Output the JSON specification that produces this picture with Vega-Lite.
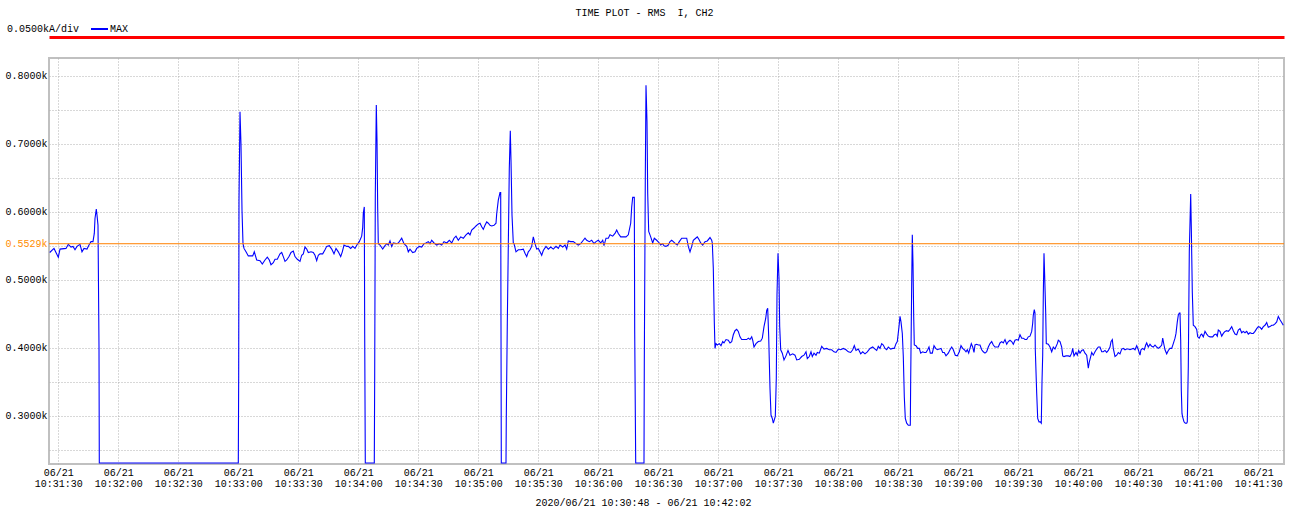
{
  "$schema": "https://vega.github.io/schema/vega-lite/v6.json",
  "width": 1235,
  "height": 406,
  "autosize": "none",
  "padding": {"left": 49, "top": 58, "right": 5, "bottom": 48},
  "background": "#ffffff",
  "title": {
    "text": "TIME PLOT - RMS\u00a0 I, CH2",
    "font": "Liberation Mono",
    "fontSize": 10,
    "fontWeight": "normal",
    "color": "#000000",
    "anchor": "middle",
    "frame": "group",
    "dx": -22,
    "offset": 2
  },
  "config": {
    "view": {"stroke": "#c0c0c0", "strokeWidth": 2},
    "font": "Liberation Mono"
  },
  "data": {
    "values": [
      {"t": -4.3, "v": 0.540}, {"t": -2.15, "v": 0.546}, {"t": 0, "v": 0.533}, {"t": 0.85, "v": 0.545},
      {"t": 3.85, "v": 0.546}, {"t": 5, "v": 0.552}, {"t": 6.35, "v": 0.548}, {"t": 7.35, "v": 0.549},
      {"t": 8.35, "v": 0.544}, {"t": 9.35, "v": 0.549}, {"t": 10.85, "v": 0.552}, {"t": 11.85, "v": 0.541},
      {"t": 12.85, "v": 0.546}, {"t": 14.35, "v": 0.545}, {"t": 15.35, "v": 0.551}, {"t": 16.35, "v": 0.556},
      {"t": 17.35, "v": 0.556}, {"t": 18.0, "v": 0.568}, {"t": 18.35, "v": 0.590}, {"t": 19.0, "v": 0.604},
      {"t": 19.35, "v": 0.595}, {"t": 19.85, "v": 0.580}, {"t": 20.35, "v": 0.401}, {"t": 20.5, "v": 0.2305},
      {"t": 90.0, "v": 0.2305}, {"t": 90.2, "v": 0.360}, {"t": 90.35, "v": 0.617}, {"t": 90.85, "v": 0.747},
      {"t": 91.35, "v": 0.698}, {"t": 91.85, "v": 0.602}, {"t": 92.35, "v": 0.553}, {"t": 92.85, "v": 0.546},
      {"t": 93.85, "v": 0.541}, {"t": 95.0, "v": 0.535}, {"t": 97.2, "v": 0.535}, {"t": 98.0, "v": 0.541},
      {"t": 99.2, "v": 0.529}, {"t": 100.85, "v": 0.528}, {"t": 102.0, "v": 0.523}, {"t": 103.35, "v": 0.529},
      {"t": 104.5, "v": 0.533}, {"t": 105.5, "v": 0.529}, {"t": 106.35, "v": 0.522}, {"t": 107.5, "v": 0.525},
      {"t": 108.35, "v": 0.530}, {"t": 109.5, "v": 0.530}, {"t": 110.85, "v": 0.538}, {"t": 111.7, "v": 0.540},
      {"t": 112.5, "v": 0.534}, {"t": 113.35, "v": 0.527}, {"t": 114.2, "v": 0.529}, {"t": 115.35, "v": 0.534},
      {"t": 116.35, "v": 0.540}, {"t": 117.5, "v": 0.542}, {"t": 118.35, "v": 0.534}, {"t": 119.5, "v": 0.530},
      {"t": 120.85, "v": 0.527}, {"t": 121.7, "v": 0.536}, {"t": 122.5, "v": 0.538}, {"t": 123.35, "v": 0.548},
      {"t": 124.2, "v": 0.545}, {"t": 125.0, "v": 0.540}, {"t": 126.35, "v": 0.541}, {"t": 127.5, "v": 0.540},
      {"t": 128.35, "v": 0.536}, {"t": 129.2, "v": 0.528}, {"t": 130.0, "v": 0.536}, {"t": 130.85, "v": 0.538},
      {"t": 132.2, "v": 0.538}, {"t": 133.35, "v": 0.544}, {"t": 134.2, "v": 0.549}, {"t": 135.5, "v": 0.550},
      {"t": 136.7, "v": 0.545}, {"t": 137.85, "v": 0.538}, {"t": 138.85, "v": 0.546}, {"t": 140.0, "v": 0.541},
      {"t": 141.2, "v": 0.534}, {"t": 142.0, "v": 0.541}, {"t": 142.85, "v": 0.551}, {"t": 144.2, "v": 0.549},
      {"t": 145.0, "v": 0.549}, {"t": 146.2, "v": 0.546}, {"t": 147.2, "v": 0.549}, {"t": 148.35, "v": 0.546},
      {"t": 149.5, "v": 0.552}, {"t": 150.5, "v": 0.556}, {"t": 151.7, "v": 0.564}, {"t": 152.2, "v": 0.577},
      {"t": 152.5, "v": 0.598}, {"t": 153.0, "v": 0.607}, {"t": 153.2, "v": 0.419}, {"t": 153.5, "v": 0.2305},
      {"t": 158.0, "v": 0.2305}, {"t": 158.2, "v": 0.362}, {"t": 158.5, "v": 0.625}, {"t": 159.0, "v": 0.757},
      {"t": 159.35, "v": 0.706}, {"t": 159.7, "v": 0.605}, {"t": 160.0, "v": 0.553}, {"t": 160.85, "v": 0.551},
      {"t": 162.2, "v": 0.545}, {"t": 163.35, "v": 0.550}, {"t": 164.2, "v": 0.553}, {"t": 165.0, "v": 0.551},
      {"t": 165.85, "v": 0.557}, {"t": 166.7, "v": 0.549}, {"t": 167.5, "v": 0.554}, {"t": 168.85, "v": 0.553},
      {"t": 170.0, "v": 0.554}, {"t": 171.7, "v": 0.561}, {"t": 172.85, "v": 0.553}, {"t": 174.2, "v": 0.549},
      {"t": 175.0, "v": 0.541}, {"t": 175.85, "v": 0.545}, {"t": 177.2, "v": 0.540}, {"t": 178.35, "v": 0.541},
      {"t": 179.2, "v": 0.546}, {"t": 180.5, "v": 0.549}, {"t": 181.7, "v": 0.548}, {"t": 182.85, "v": 0.553},
      {"t": 183.85, "v": 0.554}, {"t": 185.0, "v": 0.556}, {"t": 185.85, "v": 0.553}, {"t": 186.7, "v": 0.558},
      {"t": 187.85, "v": 0.554}, {"t": 189.2, "v": 0.551}, {"t": 190.5, "v": 0.553}, {"t": 191.7, "v": 0.551},
      {"t": 192.85, "v": 0.556}, {"t": 194.2, "v": 0.554}, {"t": 195.5, "v": 0.558}, {"t": 196.7, "v": 0.554},
      {"t": 197.85, "v": 0.561}, {"t": 198.85, "v": 0.564}, {"t": 200.0, "v": 0.558}, {"t": 201.2, "v": 0.563},
      {"t": 202.5, "v": 0.561}, {"t": 203.85, "v": 0.566}, {"t": 205.0, "v": 0.569}, {"t": 205.85, "v": 0.566},
      {"t": 206.7, "v": 0.573}, {"t": 207.85, "v": 0.576}, {"t": 208.85, "v": 0.579}, {"t": 210.0, "v": 0.582},
      {"t": 210.85, "v": 0.583}, {"t": 211.7, "v": 0.578}, {"t": 212.5, "v": 0.574}, {"t": 213.35, "v": 0.580},
      {"t": 214.2, "v": 0.585}, {"t": 215.0, "v": 0.583}, {"t": 215.85, "v": 0.580}, {"t": 216.7, "v": 0.579},
      {"t": 217.85, "v": 0.580}, {"t": 218.85, "v": 0.583}, {"t": 219.2, "v": 0.597}, {"t": 220.0, "v": 0.617},
      {"t": 220.85, "v": 0.628}, {"t": 221.2, "v": 0.628}, {"t": 221.35, "v": 0.431}, {"t": 221.5, "v": 0.2305},
      {"t": 223.85, "v": 0.2305}, {"t": 224.0, "v": 0.299}, {"t": 224.5, "v": 0.436}, {"t": 225.5, "v": 0.664},
      {"t": 226.0, "v": 0.719}, {"t": 226.35, "v": 0.676}, {"t": 226.85, "v": 0.595}, {"t": 227.5, "v": 0.554},
      {"t": 227.85, "v": 0.553}, {"t": 228.85, "v": 0.541}, {"t": 230.0, "v": 0.544}, {"t": 231.2, "v": 0.544},
      {"t": 232.5, "v": 0.545}, {"t": 233.35, "v": 0.539}, {"t": 234.2, "v": 0.534}, {"t": 235.0, "v": 0.541},
      {"t": 235.85, "v": 0.544}, {"t": 236.7, "v": 0.549}, {"t": 237.5, "v": 0.563}, {"t": 238.35, "v": 0.553},
      {"t": 239.2, "v": 0.545}, {"t": 240.0, "v": 0.546}, {"t": 240.85, "v": 0.541}, {"t": 241.7, "v": 0.536},
      {"t": 242.5, "v": 0.543}, {"t": 243.85, "v": 0.549}, {"t": 245.0, "v": 0.545}, {"t": 246.2, "v": 0.548},
      {"t": 247.5, "v": 0.545}, {"t": 248.85, "v": 0.549}, {"t": 250.0, "v": 0.546}, {"t": 250.85, "v": 0.551},
      {"t": 252.2, "v": 0.548}, {"t": 253.35, "v": 0.551}, {"t": 254.2, "v": 0.545}, {"t": 255.0, "v": 0.557},
      {"t": 256.2, "v": 0.556}, {"t": 257.5, "v": 0.556}, {"t": 258.85, "v": 0.553}, {"t": 260.0, "v": 0.551},
      {"t": 261.2, "v": 0.553}, {"t": 262.5, "v": 0.558}, {"t": 263.35, "v": 0.561}, {"t": 264.2, "v": 0.558},
      {"t": 265.5, "v": 0.556}, {"t": 266.7, "v": 0.558}, {"t": 267.85, "v": 0.553}, {"t": 268.85, "v": 0.556},
      {"t": 270.0, "v": 0.558}, {"t": 271.2, "v": 0.554}, {"t": 272.2, "v": 0.558}, {"t": 272.85, "v": 0.550},
      {"t": 273.85, "v": 0.561}, {"t": 275.0, "v": 0.561}, {"t": 275.85, "v": 0.566}, {"t": 277.2, "v": 0.564},
      {"t": 278.35, "v": 0.568}, {"t": 279.2, "v": 0.573}, {"t": 280.0, "v": 0.568}, {"t": 281.2, "v": 0.563},
      {"t": 282.5, "v": 0.563}, {"t": 283.85, "v": 0.563}, {"t": 285.0, "v": 0.566}, {"t": 286.2, "v": 0.583},
      {"t": 286.7, "v": 0.607}, {"t": 287.2, "v": 0.621}, {"t": 288.0, "v": 0.621}, {"t": 288.2, "v": 0.424},
      {"t": 288.7, "v": 0.2305}, {"t": 292.85, "v": 0.2305}, {"t": 293.0, "v": 0.377}, {"t": 293.5, "v": 0.649},
      {"t": 293.85, "v": 0.786}, {"t": 294.35, "v": 0.732}, {"t": 294.7, "v": 0.627}, {"t": 295.2, "v": 0.571},
      {"t": 296.2, "v": 0.563}, {"t": 297.2, "v": 0.554}, {"t": 298.0, "v": 0.561}, {"t": 299.2, "v": 0.558},
      {"t": 300.5, "v": 0.554}, {"t": 301.2, "v": 0.551}, {"t": 302.2, "v": 0.553}, {"t": 302.85, "v": 0.550},
      {"t": 303.85, "v": 0.549}, {"t": 305.0, "v": 0.551}, {"t": 305.85, "v": 0.556}, {"t": 306.7, "v": 0.558},
      {"t": 307.5, "v": 0.556}, {"t": 308.5, "v": 0.553}, {"t": 309.5, "v": 0.551}, {"t": 310.5, "v": 0.556},
      {"t": 311.7, "v": 0.561}, {"t": 313.35, "v": 0.561}, {"t": 314.2, "v": 0.561}, {"t": 315.0, "v": 0.549},
      {"t": 315.85, "v": 0.541}, {"t": 316.7, "v": 0.549}, {"t": 317.5, "v": 0.558}, {"t": 318.7, "v": 0.561},
      {"t": 319.5, "v": 0.563}, {"t": 320.35, "v": 0.559}, {"t": 321.2, "v": 0.554}, {"t": 322.2, "v": 0.551},
      {"t": 323.35, "v": 0.556}, {"t": 324.5, "v": 0.557}, {"t": 325.85, "v": 0.562}, {"t": 326.7, "v": 0.558},
      {"t": 327.0, "v": 0.554}, {"t": 327.5, "v": 0.517}, {"t": 328.0, "v": 0.438}, {"t": 328.35, "v": 0.399},
      {"t": 328.85, "v": 0.406}, {"t": 329.5, "v": 0.404}, {"t": 330.5, "v": 0.406}, {"t": 331.35, "v": 0.403},
      {"t": 332.2, "v": 0.409}, {"t": 332.85, "v": 0.407}, {"t": 333.85, "v": 0.412}, {"t": 335.0, "v": 0.411},
      {"t": 335.85, "v": 0.407}, {"t": 336.7, "v": 0.409}, {"t": 337.5, "v": 0.419}, {"t": 338.35, "v": 0.425},
      {"t": 339.2, "v": 0.427}, {"t": 340.0, "v": 0.424}, {"t": 340.85, "v": 0.416}, {"t": 341.7, "v": 0.412},
      {"t": 342.85, "v": 0.412}, {"t": 344.2, "v": 0.412}, {"t": 345.0, "v": 0.414}, {"t": 345.85, "v": 0.412},
      {"t": 346.7, "v": 0.416}, {"t": 347.2, "v": 0.411}, {"t": 347.85, "v": 0.401}, {"t": 348.85, "v": 0.406},
      {"t": 350.0, "v": 0.409}, {"t": 351.2, "v": 0.410}, {"t": 352.0, "v": 0.414}, {"t": 352.85, "v": 0.431},
      {"t": 353.7, "v": 0.443}, {"t": 354.2, "v": 0.455}, {"t": 354.7, "v": 0.458}, {"t": 355.2, "v": 0.416},
      {"t": 355.85, "v": 0.340}, {"t": 356.35, "v": 0.301}, {"t": 357.0, "v": 0.296}, {"t": 357.5, "v": 0.289},
      {"t": 358.0, "v": 0.294}, {"t": 358.5, "v": 0.299}, {"t": 359.0, "v": 0.355}, {"t": 359.35, "v": 0.478},
      {"t": 359.85, "v": 0.539}, {"t": 360.35, "v": 0.502}, {"t": 360.7, "v": 0.431}, {"t": 361.2, "v": 0.397},
      {"t": 362.0, "v": 0.392}, {"t": 362.85, "v": 0.382}, {"t": 363.85, "v": 0.388}, {"t": 364.85, "v": 0.396},
      {"t": 365.85, "v": 0.389}, {"t": 367.2, "v": 0.391}, {"t": 368.35, "v": 0.389}, {"t": 369.2, "v": 0.382},
      {"t": 370.5, "v": 0.383}, {"t": 371.7, "v": 0.387}, {"t": 372.85, "v": 0.389}, {"t": 373.85, "v": 0.394},
      {"t": 374.5, "v": 0.384}, {"t": 375.5, "v": 0.387}, {"t": 376.35, "v": 0.394}, {"t": 377.0, "v": 0.387},
      {"t": 377.85, "v": 0.392}, {"t": 378.85, "v": 0.389}, {"t": 379.5, "v": 0.393}, {"t": 380.5, "v": 0.392},
      {"t": 381.7, "v": 0.402}, {"t": 382.85, "v": 0.398}, {"t": 384.2, "v": 0.399}, {"t": 385.5, "v": 0.397},
      {"t": 386.7, "v": 0.397}, {"t": 387.85, "v": 0.394}, {"t": 388.85, "v": 0.393}, {"t": 390.0, "v": 0.398},
      {"t": 391.2, "v": 0.397}, {"t": 392.5, "v": 0.399}, {"t": 393.85, "v": 0.397}, {"t": 395.0, "v": 0.394},
      {"t": 396.2, "v": 0.393}, {"t": 397.2, "v": 0.397}, {"t": 398.0, "v": 0.403}, {"t": 398.85, "v": 0.396},
      {"t": 400.0, "v": 0.398}, {"t": 401.2, "v": 0.391}, {"t": 402.2, "v": 0.394}, {"t": 403.35, "v": 0.391},
      {"t": 404.5, "v": 0.394}, {"t": 405.85, "v": 0.399}, {"t": 407.2, "v": 0.401}, {"t": 408.35, "v": 0.398},
      {"t": 409.2, "v": 0.396}, {"t": 410.0, "v": 0.402}, {"t": 410.85, "v": 0.399}, {"t": 411.7, "v": 0.406},
      {"t": 412.5, "v": 0.404}, {"t": 413.35, "v": 0.399}, {"t": 414.2, "v": 0.397}, {"t": 415.0, "v": 0.401},
      {"t": 416.2, "v": 0.398}, {"t": 417.2, "v": 0.399}, {"t": 418.0, "v": 0.399}, {"t": 418.85, "v": 0.406},
      {"t": 419.5, "v": 0.409}, {"t": 420.35, "v": 0.431}, {"t": 420.85, "v": 0.446}, {"t": 421.35, "v": 0.438},
      {"t": 422.0, "v": 0.421}, {"t": 422.5, "v": 0.387}, {"t": 423.0, "v": 0.328}, {"t": 423.5, "v": 0.296},
      {"t": 424.2, "v": 0.289}, {"t": 425.0, "v": 0.286}, {"t": 426.0, "v": 0.286}, {"t": 426.2, "v": 0.355},
      {"t": 426.7, "v": 0.495}, {"t": 427.0, "v": 0.566}, {"t": 427.35, "v": 0.524}, {"t": 427.7, "v": 0.446},
      {"t": 428.0, "v": 0.404}, {"t": 428.85, "v": 0.403}, {"t": 429.7, "v": 0.399}, {"t": 430.5, "v": 0.399},
      {"t": 431.2, "v": 0.392}, {"t": 432.2, "v": 0.394}, {"t": 433.0, "v": 0.393}, {"t": 433.85, "v": 0.393},
      {"t": 434.7, "v": 0.397}, {"t": 435.35, "v": 0.401}, {"t": 436.0, "v": 0.392}, {"t": 437.0, "v": 0.392},
      {"t": 437.85, "v": 0.403}, {"t": 438.7, "v": 0.399}, {"t": 439.5, "v": 0.397}, {"t": 440.5, "v": 0.398},
      {"t": 441.35, "v": 0.399}, {"t": 442.2, "v": 0.393}, {"t": 443.0, "v": 0.393}, {"t": 443.85, "v": 0.388},
      {"t": 445.0, "v": 0.392}, {"t": 445.85, "v": 0.397}, {"t": 446.7, "v": 0.401}, {"t": 447.5, "v": 0.397},
      {"t": 448.5, "v": 0.389}, {"t": 449.5, "v": 0.388}, {"t": 450.5, "v": 0.394}, {"t": 451.35, "v": 0.403},
      {"t": 452.2, "v": 0.399}, {"t": 453.0, "v": 0.397}, {"t": 453.85, "v": 0.394}, {"t": 454.5, "v": 0.397},
      {"t": 455.2, "v": 0.392}, {"t": 455.85, "v": 0.399}, {"t": 456.5, "v": 0.406}, {"t": 457.2, "v": 0.401},
      {"t": 457.85, "v": 0.393}, {"t": 458.35, "v": 0.404}, {"t": 459.2, "v": 0.405}, {"t": 460.0, "v": 0.404},
      {"t": 460.85, "v": 0.404}, {"t": 461.7, "v": 0.397}, {"t": 462.5, "v": 0.394}, {"t": 463.35, "v": 0.392},
      {"t": 464.2, "v": 0.394}, {"t": 465.0, "v": 0.401}, {"t": 465.85, "v": 0.406}, {"t": 466.7, "v": 0.409},
      {"t": 467.5, "v": 0.404}, {"t": 468.35, "v": 0.401}, {"t": 469.2, "v": 0.401}, {"t": 470.0, "v": 0.401},
      {"t": 470.85, "v": 0.407}, {"t": 471.7, "v": 0.409}, {"t": 472.5, "v": 0.407}, {"t": 473.35, "v": 0.412},
      {"t": 474.2, "v": 0.405}, {"t": 475.0, "v": 0.409}, {"t": 475.85, "v": 0.411}, {"t": 476.7, "v": 0.409},
      {"t": 477.5, "v": 0.405}, {"t": 478.35, "v": 0.411}, {"t": 479.2, "v": 0.412}, {"t": 480.0, "v": 0.411},
      {"t": 480.85, "v": 0.419}, {"t": 481.7, "v": 0.414}, {"t": 482.5, "v": 0.414}, {"t": 483.35, "v": 0.412},
      {"t": 484.2, "v": 0.412}, {"t": 485.0, "v": 0.416}, {"t": 485.85, "v": 0.417}, {"t": 486.7, "v": 0.424},
      {"t": 487.2, "v": 0.436}, {"t": 487.5, "v": 0.448}, {"t": 488.0, "v": 0.456}, {"t": 488.35, "v": 0.451},
      {"t": 488.5, "v": 0.397}, {"t": 489.2, "v": 0.333}, {"t": 489.7, "v": 0.296}, {"t": 490.35, "v": 0.291},
      {"t": 491.0, "v": 0.291}, {"t": 491.5, "v": 0.289}, {"t": 491.85, "v": 0.350}, {"t": 492.2, "v": 0.389},
      {"t": 492.5, "v": 0.478}, {"t": 492.85, "v": 0.539}, {"t": 493.2, "v": 0.504}, {"t": 493.7, "v": 0.451},
      {"t": 494.0, "v": 0.406}, {"t": 495.0, "v": 0.405}, {"t": 495.85, "v": 0.401}, {"t": 496.7, "v": 0.394},
      {"t": 497.5, "v": 0.401}, {"t": 498.35, "v": 0.398}, {"t": 499.5, "v": 0.406}, {"t": 500.0, "v": 0.411},
      {"t": 500.85, "v": 0.409}, {"t": 501.7, "v": 0.401}, {"t": 502.2, "v": 0.388}, {"t": 502.85, "v": 0.387},
      {"t": 503.85, "v": 0.388}, {"t": 505.0, "v": 0.388}, {"t": 505.85, "v": 0.387}, {"t": 506.7, "v": 0.392},
      {"t": 507.2, "v": 0.399}, {"t": 507.85, "v": 0.388}, {"t": 508.85, "v": 0.393}, {"t": 509.5, "v": 0.389},
      {"t": 510.2, "v": 0.396}, {"t": 510.85, "v": 0.392}, {"t": 511.7, "v": 0.396}, {"t": 512.5, "v": 0.397},
      {"t": 513.35, "v": 0.392}, {"t": 514.2, "v": 0.389}, {"t": 514.5, "v": 0.382}, {"t": 515.0, "v": 0.370},
      {"t": 515.5, "v": 0.379}, {"t": 516.2, "v": 0.387}, {"t": 516.7, "v": 0.393}, {"t": 517.5, "v": 0.389},
      {"t": 518.35, "v": 0.394}, {"t": 519.2, "v": 0.398}, {"t": 520.0, "v": 0.401}, {"t": 520.85, "v": 0.401},
      {"t": 521.7, "v": 0.394}, {"t": 522.5, "v": 0.394}, {"t": 523.35, "v": 0.396}, {"t": 524.2, "v": 0.393},
      {"t": 525.0, "v": 0.396}, {"t": 525.85, "v": 0.401}, {"t": 526.35, "v": 0.409}, {"t": 527.0, "v": 0.412},
      {"t": 527.5, "v": 0.399}, {"t": 528.35, "v": 0.387}, {"t": 529.2, "v": 0.389}, {"t": 530.0, "v": 0.393},
      {"t": 530.85, "v": 0.391}, {"t": 531.7, "v": 0.398}, {"t": 532.5, "v": 0.399}, {"t": 533.35, "v": 0.397},
      {"t": 534.2, "v": 0.398}, {"t": 535.0, "v": 0.398}, {"t": 535.85, "v": 0.397}, {"t": 536.7, "v": 0.398},
      {"t": 537.5, "v": 0.399}, {"t": 538.35, "v": 0.397}, {"t": 539.2, "v": 0.403}, {"t": 540.0, "v": 0.397},
      {"t": 540.85, "v": 0.389}, {"t": 541.35, "v": 0.397}, {"t": 542.2, "v": 0.399}, {"t": 543.0, "v": 0.397},
      {"t": 543.7, "v": 0.404}, {"t": 544.2, "v": 0.407}, {"t": 545.0, "v": 0.401}, {"t": 545.85, "v": 0.405},
      {"t": 546.7, "v": 0.402}, {"t": 547.5, "v": 0.401}, {"t": 548.35, "v": 0.404}, {"t": 549.2, "v": 0.401},
      {"t": 550.0, "v": 0.399}, {"t": 550.85, "v": 0.401}, {"t": 551.7, "v": 0.404}, {"t": 552.2, "v": 0.414},
      {"t": 552.85, "v": 0.404}, {"t": 553.35, "v": 0.397}, {"t": 554.2, "v": 0.391}, {"t": 555.0, "v": 0.396},
      {"t": 555.85, "v": 0.399}, {"t": 556.7, "v": 0.399}, {"t": 557.5, "v": 0.406}, {"t": 558.35, "v": 0.414},
      {"t": 558.85, "v": 0.421}, {"t": 559.5, "v": 0.438}, {"t": 560.0, "v": 0.448}, {"t": 560.5, "v": 0.451},
      {"t": 560.85, "v": 0.451}, {"t": 561.2, "v": 0.411}, {"t": 561.5, "v": 0.338}, {"t": 561.85, "v": 0.303},
      {"t": 562.2, "v": 0.298}, {"t": 562.85, "v": 0.291}, {"t": 563.5, "v": 0.289}, {"t": 564.2, "v": 0.289},
      {"t": 564.5, "v": 0.291}, {"t": 565.0, "v": 0.372}, {"t": 565.5, "v": 0.541}, {"t": 566.2, "v": 0.626},
      {"t": 566.5, "v": 0.578}, {"t": 567.0, "v": 0.482}, {"t": 567.5, "v": 0.433}, {"t": 568.35, "v": 0.431},
      {"t": 569.2, "v": 0.427}, {"t": 569.7, "v": 0.416}, {"t": 570.5, "v": 0.414}, {"t": 571.2, "v": 0.419},
      {"t": 571.7, "v": 0.420}, {"t": 572.5, "v": 0.416}, {"t": 573.35, "v": 0.424}, {"t": 574.2, "v": 0.420},
      {"t": 575.0, "v": 0.417}, {"t": 575.85, "v": 0.416}, {"t": 577.2, "v": 0.416}, {"t": 578.0, "v": 0.419},
      {"t": 578.85, "v": 0.420}, {"t": 579.5, "v": 0.417}, {"t": 580.0, "v": 0.426}, {"t": 580.85, "v": 0.424},
      {"t": 581.7, "v": 0.417}, {"t": 582.5, "v": 0.421}, {"t": 583.35, "v": 0.424}, {"t": 584.2, "v": 0.425},
      {"t": 585.0, "v": 0.424}, {"t": 585.85, "v": 0.427}, {"t": 586.7, "v": 0.431}, {"t": 587.5, "v": 0.425},
      {"t": 588.35, "v": 0.420}, {"t": 589.2, "v": 0.419}, {"t": 590.0, "v": 0.426}, {"t": 590.85, "v": 0.428},
      {"t": 591.7, "v": 0.422}, {"t": 592.5, "v": 0.424}, {"t": 593.35, "v": 0.422}, {"t": 594.2, "v": 0.424},
      {"t": 595.0, "v": 0.420}, {"t": 595.85, "v": 0.422}, {"t": 596.7, "v": 0.421}, {"t": 597.5, "v": 0.421},
      {"t": 598.35, "v": 0.424}, {"t": 599.2, "v": 0.428}, {"t": 600.0, "v": 0.431}, {"t": 600.85, "v": 0.430},
      {"t": 601.7, "v": 0.427}, {"t": 602.5, "v": 0.431}, {"t": 603.35, "v": 0.433}, {"t": 604.2, "v": 0.437},
      {"t": 605.0, "v": 0.430}, {"t": 605.85, "v": 0.431}, {"t": 606.7, "v": 0.433}, {"t": 607.5, "v": 0.433},
      {"t": 608.35, "v": 0.435}, {"t": 609.2, "v": 0.438}, {"t": 610.0, "v": 0.446}, {"t": 610.85, "v": 0.441},
      {"t": 611.7, "v": 0.437}, {"t": 612.5, "v": 0.433}
    ]
  },
  "layer": [
    {
      "mark": {"type": "line", "strokeWidth": 1.1, "interpolate": "linear"},
      "encoding": {
        "x": {
          "field": "t",
          "type": "quantitative",
          "scale": {"domain": [-4.65, 612.85], "nice": false, "zero": false},
          "axis": {
            "orient": "bottom",
            "values": [0, 30, 60, 90, 120, 150, 180, 210, 240, 270, 300, 330, 360, 390, 420, 450, 480, 510, 540, 570, 600],
            "labelExpr": "['06/21', '10:' + (31 + floor((datum.value + 30) / 60)) + ':' + format((datum.value + 30) % 60, '02d')]",
            "labelFont": "Liberation Mono",
            "labelFontSize": 10,
            "labelColor": "#000000",
            "labelLineHeight": 11.5,
            "labelBaseline": "top",
            "labelPadding": 3,
            "labelFlush": false,
            "labelOverlap": false,
            "ticks": false,
            "domain": false,
            "grid": true,
            "gridColor": "#b0b0b0",
            "gridDash": [1, 2],
            "gridWidth": 1,
            "title": "2020/06/21 10:30:48 - 06/21 10:42:02",
            "titleFont": "Liberation Mono",
            "titleFontSize": 10,
            "titleFontWeight": "normal",
            "titleColor": "#000000",
            "titleX": 594,
            "titleY": 38,
            "titleAlign": "center",
            "titleBaseline": "middle"
          }
        },
        "y": {
          "field": "v",
          "type": "quantitative",
          "scale": {"domain": [0.229, 0.826], "nice": false, "zero": false},
          "axis": {
            "values": [0.25, 0.3, 0.35, 0.4, 0.45, 0.5, 0.55, 0.6, 0.65, 0.7, 0.75, 0.8],
            "labelExpr": "abs(datum.value * 10 - round(datum.value * 10)) < 0.001 ? format(datum.value, '.4f') + 'k' : ''",
            "labelFont": "Liberation Mono",
            "labelFontSize": 10,
            "labelColor": "#000000",
            "labelPadding": 2,
            "labelOverlap": false,
            "labelFlush": false,
            "ticks": false,
            "domain": false,
            "grid": true,
            "gridColor": "#b0b0b0",
            "gridDash": [1, 2],
            "gridWidth": 1,
            "title": null
          }
        },
        "color": {
          "datum": "MAX",
          "type": "nominal",
          "scale": {"range": ["#0000ff"]},
          "legend": {
            "orient": "none",
            "legendX": -42,
            "legendY": -38.5,
            "direction": "horizontal",
            "padding": 0,
            "title": "0.0500kA/div",
            "titleOrient": "left",
            "titleAnchor": "middle",
            "titleBaseline": "line-top",
            "titleLineHeight": 4,
            "titleFont": "Liberation Mono",
            "titleFontSize": 10,
            "titleFontWeight": "normal",
            "titleColor": "#000000",
            "titlePadding": 10,
            "symbolType": "stroke",
            "symbolStrokeWidth": 2,
            "symbolSize": 289,
            "labelFont": "Liberation Mono",
            "labelFontSize": 10,
            "labelColor": "#000000",
            "labelOffset": 1
          }
        }
      }
    },
    {
      "data": {"values": [{"ref": 0.5529}]},
      "mark": {"type": "rule", "color": "#ff8000", "strokeWidth": 1},
      "encoding": {
        "y": {
          "field": "ref",
          "type": "quantitative",
          "axis": {
            "orient": "left",
            "values": [0.5529],
            "labelExpr": "format(datum.value, '.4f') + 'k'",
            "labelFont": "Liberation Mono",
            "labelFontSize": 10,
            "labelColor": "#ff8c00",
            "labelPadding": 2,
            "labelOverlap": false,
            "ticks": false,
            "domain": false,
            "grid": false,
            "title": null
          }
        }
      }
    },
    {
      "mark": {"type": "rule", "opacity": 0},
      "encoding": {
        "x": {
          "aggregate": "min",
          "field": "t",
          "type": "quantitative",
          "axis": {
            "orient": "top",
            "offset": 21,
            "domain": true,
            "domainColor": "#ff0000",
            "domainWidth": 3,
            "labels": false,
            "ticks": false,
            "grid": false,
            "title": null
          }
        },
        "x2": {"aggregate": "max", "field": "t"}
      }
    }
  ],
  "resolve": {"axis": {"x": "independent", "y": "independent"}}
}
